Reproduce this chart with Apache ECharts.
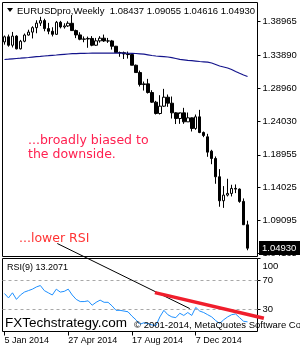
<!DOCTYPE html>
<html><head><meta charset="utf-8">
<script src="https://cdn.jsdelivr.net/npm/echarts@6/dist/echarts.min.js"></script>
<style>html,body{margin:0;padding:0;background:#fff}#c{width:300px;height:350px}</style>
</head><body><div id="c"></div>
<script>
const weeks = ['5 Jan 2014','12 Jan 2014','19 Jan 2014','26 Jan 2014','2 Feb 2014','9 Feb 2014','16 Feb 2014','23 Feb 2014','2 Mar 2014','9 Mar 2014','16 Mar 2014','23 Mar 2014','30 Mar 2014','6 Apr 2014','13 Apr 2014','20 Apr 2014','27 Apr 2014','4 May 2014','11 May 2014','18 May 2014','25 May 2014','1 Jun 2014','8 Jun 2014','15 Jun 2014','22 Jun 2014','29 Jun 2014','6 Jul 2014','13 Jul 2014','20 Jul 2014','27 Jul 2014','3 Aug 2014','10 Aug 2014','17 Aug 2014','24 Aug 2014','31 Aug 2014','7 Sep 2014','14 Sep 2014','21 Sep 2014','28 Sep 2014','5 Oct 2014','12 Oct 2014','19 Oct 2014','26 Oct 2014','2 Nov 2014','9 Nov 2014','16 Nov 2014','23 Nov 2014','30 Nov 2014','7 Dec 2014','14 Dec 2014','21 Dec 2014','28 Dec 2014','4 Jan 2015','11 Jan 2015','18 Jan 2015','25 Jan 2015','1 Feb 2015','8 Feb 2015','15 Feb 2015','22 Feb 2015','1 Mar 2015','8 Mar 2015'];
const opens  = [1.3590,1.3667,1.3540,1.3677,1.3486,1.3600,1.3693,1.3737,1.3804,1.3872,1.3910,1.3790,1.3750,1.3704,1.3885,1.3815,1.3830,1.3870,1.3760,1.3695,1.3630,1.3634,1.3642,1.3540,1.3606,1.3646,1.3604,1.3605,1.3525,1.3430,1.3428,1.3410,1.3400,1.3240,1.3130,1.2950,1.2960,1.2830,1.2685,1.2515,1.2625,1.2760,1.2670,1.2525,1.2440,1.2525,1.2390,1.2450,1.2290,1.2465,1.2230,1.2165,1.1950,1.1840,1.1565,1.1205,1.1290,1.1315,1.1390,1.1380,1.1195,1.08437];
const highs  = [1.3686,1.3700,1.3740,1.3690,1.3620,1.3716,1.3773,1.3825,1.3915,1.3967,1.3938,1.3876,1.3810,1.3905,1.3906,1.3870,1.3900,1.3993,1.3775,1.3735,1.3672,1.3670,1.3677,1.3650,1.3676,1.3700,1.3650,1.3620,1.3530,1.3445,1.3445,1.3445,1.3405,1.3250,1.3160,1.2995,1.3035,1.2865,1.2705,1.2790,1.2885,1.2800,1.2770,1.2535,1.2510,1.2600,1.2530,1.2455,1.2500,1.2570,1.2245,1.2210,1.1970,1.1870,1.1680,1.1425,1.1535,1.1445,1.1450,1.1390,1.1240,1.09055];
const lows   = [1.3549,1.3518,1.3507,1.3478,1.3477,1.3585,1.3685,1.3642,1.3720,1.3830,1.3750,1.3705,1.3672,1.3697,1.3793,1.3790,1.3815,1.3755,1.3647,1.3615,1.3585,1.3502,1.3525,1.3530,1.3580,1.3590,1.3575,1.3475,1.3423,1.3367,1.3333,1.3340,1.3240,1.3130,1.2920,1.2860,1.2815,1.2675,1.2500,1.2500,1.2615,1.2615,1.2440,1.2357,1.2360,1.2360,1.2390,1.2245,1.2270,1.2220,1.2160,1.1865,1.1754,1.1460,1.1115,1.1098,1.1270,1.1270,1.1320,1.1175,1.0840,1.04616];
const closes = [1.3667,1.3540,1.3677,1.3486,1.3600,1.3693,1.3737,1.3804,1.3872,1.3910,1.3790,1.3750,1.3704,1.3885,1.3815,1.3830,1.3870,1.3760,1.3695,1.3630,1.3634,1.3642,1.3540,1.3606,1.3646,1.3604,1.3605,1.3525,1.3430,1.3428,1.3410,1.3400,1.3240,1.3130,1.2950,1.2960,1.2830,1.2685,1.2515,1.2625,1.2760,1.2670,1.2525,1.2440,1.2525,1.2390,1.2450,1.2290,1.2465,1.2230,1.2185,1.1935,1.1840,1.1565,1.1205,1.1290,1.1315,1.1390,1.1380,1.1195,1.0845,1.04930];
const ma = [1.33259,1.33304,1.33364,1.33409,1.33454,1.33515,1.33560,1.33620,1.33680,1.33725,1.33785,1.33830,1.33890,1.33935,1.33995,1.34040,1.34085,1.34130,1.34150,1.34170,1.34190,1.34200,1.34210,1.34220,1.34220,1.34230,1.34230,1.34230,1.34220,1.34220,1.34210,1.34200,1.34180,1.34160,1.34115,1.34055,1.33965,1.33860,1.33785,1.33740,1.33695,1.33635,1.33530,1.33409,1.33289,1.33214,1.33139,1.33079,1.33019,1.32959,1.32914,1.32869,1.32734,1.32509,1.32283,1.32133,1.31983,1.31758,1.31457,1.31187,1.30932,1.30707];
const rsi = [52,46,53,44,50,54,56,58,61,63,56,53,50,58,54,55,58,50,44,41,41,42,36,40,43,40,40,35,29,29,28,27,21,16,10,12,11,9,8,20,29,23,20,19,25,22,26,22,33,28,26,23,20,15,11,16,20,23,24,19,14,13.2071];
const priceTicks = [1.38965,1.33890,1.28960,1.24030,1.18955,1.14025,1.09095,1.04165];
const rsiTicks = [100,70,30];
const rsiLevels = [70,30];
const dateTickEvery = 16;
const titleText = 'EURUSDpro,Weekly  1.08437 1.09055 1.04616 1.04930';
const rsiLabel = 'RSI(9) ' + rsi[rsi.length-1].toFixed(4);
const blackTrend = [[13.25, 1.0563], [46.5, 31.4]];
const redTrend = [[37.75, 53.2], [65.1, 18.2]];

const FONT = '"Liberation Sans", Arial, sans-serif';
const chart = echarts.init(document.getElementById('c'), null, {renderer:'canvas', width:300, height:350});
const cats = weeks.concat(['','']);
const candle = opens.map((o,i)=>[o, closes[i], lows[i], highs[i]]);
const lblStyle = {fontSize:9.5, fontFamily:FONT, color:'#000'};
const option = {
  animation:false,
  backgroundColor:'#fff',
  title:[
    {text:titleText, left:17, top:6, padding:0, textStyle:{fontSize:9.5, fontWeight:'normal', fontFamily:FONT, color:'#000'}},
    {text:rsiLabel, left:7, top:263, padding:0, textStyle:{fontSize:9, fontWeight:'normal', fontFamily:FONT, color:'#000'}}
  ],
  grid:[
    {left:2.5, top:2.5, width:255, height:254, show:true, borderColor:'#000', borderWidth:1, backgroundColor:'#fff'},
    {left:2.5, top:258.5, width:255, height:73, show:true, borderColor:'#000', borderWidth:1, backgroundColor:'#fff'}
  ],
  xAxis:[
    {gridIndex:0, type:'category', data:cats, boundaryGap:true, axisLine:{show:false}, axisTick:{show:false}, axisLabel:{show:false}, splitLine:{show:false}},
    {gridIndex:1, type:'category', data:cats, boundaryGap:true,
     axisLine:{show:false},
     axisTick:{show:true, alignWithLabel:true, interval:dateTickEvery-1, length:4, lineStyle:{color:'#000'}},
     axisLabel:{interval:dateTickEvery-1, align:'left', margin:5, fontSize:9, fontFamily:FONT, color:'#000'},
     splitLine:{show:false}}
  ],
  yAxis:[
    {gridIndex:0, type:'value', position:'right', min:1.03680, max:1.41818,
     axisLine:{show:false},
     axisTick:{show:true, customValues:priceTicks, length:3, lineStyle:{color:'#000'}},
     axisLabel:Object.assign({customValues:priceTicks, formatter:v=>v.toFixed(5), margin:5}, lblStyle),
     splitLine:{show:false}},
    {gridIndex:1, type:'value', position:'right', min:0, max:100,
     axisLine:{show:false},
     axisTick:{show:true, customValues:rsiTicks, length:3, lineStyle:{color:'#000'}},
     axisLabel:Object.assign({customValues:rsiTicks, margin:5,
        formatter:v=> v===100 ? '{t|100}' : String(v),
        rich:{t:{fontSize:9.5, fontFamily:FONT, color:'#000', padding:[16,0,0,0]}}}, lblStyle),
     splitLine:{show:false}}
  ],
  series:[
    {type:'candlestick', xAxisIndex:0, yAxisIndex:0, data:candle, barWidth:3,
     itemStyle:{color:'#fff', color0:'#000', borderColor:'#000', borderColor0:'#000', borderWidth:1}},
    {type:'line', xAxisIndex:0, yAxisIndex:0, data:ma, symbol:'none', lineStyle:{color:'#14148c', width:1.2}},
    {type:'line', xAxisIndex:1, yAxisIndex:1, data:rsi, symbol:'none', lineStyle:{color:'#1e90ff', width:1},
     markLine:{silent:true, symbol:'none', label:{show:false},
       lineStyle:{color:'#a8a8a8', type:[3,3], width:1},
       data:rsiLevels.map(v=>({yAxis:v}))}}
  ]
};
chart.setOption(option);

const x0 = chart.convertToPixel({xAxisIndex:0}, 0);
const xN = chart.convertToPixel({xAxisIndex:0}, cats.length-1);
const step = (xN - x0) / (cats.length-1);
const px = i => x0 + i*step;
const py0 = v => chart.convertToPixel({yAxisIndex:0}, v);
const py1 = v => chart.convertToPixel({yAxisIndex:1}, v);
const lastY = py0(closes[closes.length-1]);

chart.setOption({graphic:[
  {type:'polygon', shape:{points:[[7,8],[13,8],[10,12]]}, style:{fill:'#000'}, z:100},
  {type:'text', x:28, y:134, style:{text:'...broadly biased to\nthe downside.', font:'12.5px "DejaVu Sans"', lineHeight:14, fill:'#ff2050', verticalAlign:'top'}, z:100},
  {type:'text', x:19, y:232, style:{text:'...lower RSI', font:'12.5px "DejaVu Sans"', lineHeight:14, fill:'#ff3333', verticalAlign:'top'}, z:100},
  {type:'line', shape:{x1:px(blackTrend[0][0]), y1:py0(blackTrend[0][1]), x2:px(blackTrend[1][0]), y2:py1(blackTrend[1][1])}, style:{stroke:'#000', lineWidth:1}, z:100},
  {type:'line', shape:{x1:px(redTrend[0][0]), y1:py1(redTrend[0][1]), x2:px(redTrend[1][0]), y2:py1(redTrend[1][1])}, style:{stroke:'#f01e2c', lineWidth:3.5}, z:101},
  {type:'text', x:5, y:323, style:{text:'FXTechstrategy.com', font:'13.5px "Liberation Sans"', fill:'#000', verticalAlign:'middle'}, z:102},
  {type:'text', x:134, y:325, style:{text:'\u00a9 2001-2014, MetaQuotes Software Corp.', font:'9.5px "Liberation Sans"', fill:'#000', verticalAlign:'middle'}, z:102},
  {type:'rect', shape:{x:259, y:Math.round(lastY)-7, width:41, height:14}, style:{fill:'#000'}, z:110},
  {type:'text', x:262, y:lastY, style:{text:closes[closes.length-1].toFixed(5), font:'9.5px "Liberation Sans"', fill:'#fff', verticalAlign:'middle'}, z:111}
]});
</script></body></html>
